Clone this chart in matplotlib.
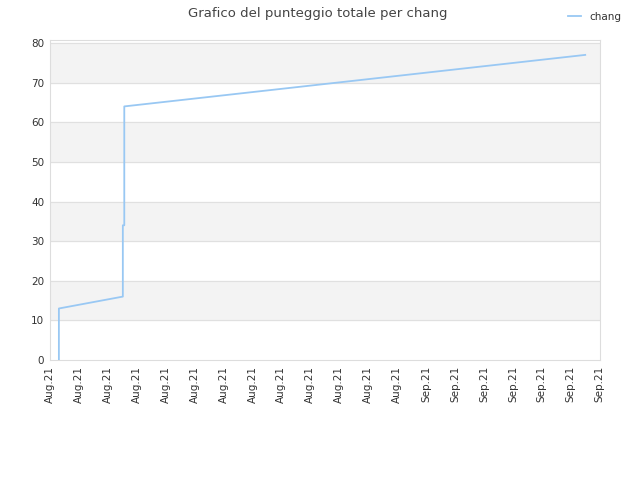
import matplotlib.pyplot as plt

# dati (x in unità di tick)
tick_labels = ["Aug.21"] * 13 + ["Sep.21"] * 7
score_x = [0.31, 0.31, 2.52, 2.52, 2.57, 2.57, 18.5]
score_y = [0, 13, 16, 34, 34, 64, 77]
player = "chang"

plt.rcParams["font.family"] = "DejaVu Sans"
fig = plt.figure(figsize=(6.4, 4.8), dpi=100)
ax = fig.add_axes([0.078, 0.25, 0.859, 0.667])

# bande grigie alternate
for lo in range(10, 80, 20):
    ax.axhspan(lo, lo + 10, color="#f3f3f3", zorder=0)
for v in range(10, 81, 10):
    ax.axhline(v, color="#e0e0e0", linewidth=0.8, zorder=1)

ax.plot(score_x, score_y, color="#99c8f3", linewidth=1.3, label=player, zorder=3)

ax.set_xlim(0, 19)
ax.set_ylim(0, 80.8)
ax.set_xticks(range(len(tick_labels)))
ax.set_xticklabels(tick_labels, rotation=90)
ax.set_yticks(range(0, 81, 10))
ax.tick_params(length=0, labelsize=7.5, colors="#333333", pad=4)
for s in ax.spines.values():
    s.set_color("#dddddd")

fig.suptitle("Grafico del punteggio totale per chang", x=0.497, y=0.985,
             fontsize=9.5, color="#444444")
fig.legend(loc="upper right", bbox_to_anchor=(0.985, 0.995), frameon=False,
           fontsize=7.5, handlelength=1.2, labelcolor="#333333")

fig.savefig("out.png")
